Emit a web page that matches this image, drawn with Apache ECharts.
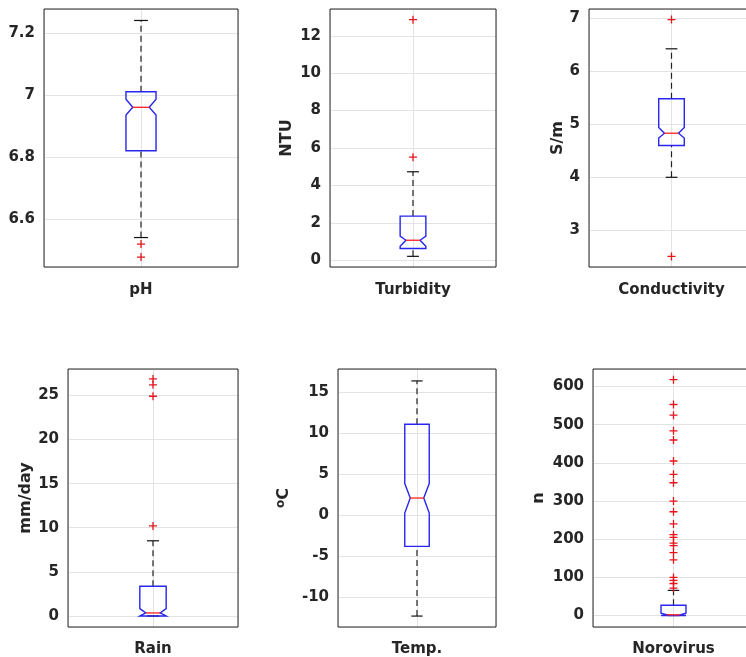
<!DOCTYPE html>
<html><head><meta charset="utf-8">
<script src="https://cdn.jsdelivr.net/npm/echarts@6/dist/echarts.min.js"></script>
<style>html,body{margin:0;padding:0;background:#fff}#c{width:746px;height:657px}</style>
</head><body><div id="c"></div>
<script>
// ---- data ----
const categories = ['pH', 'Turbidity', 'Conductivity', 'Rain', 'Temp.', 'Norovirus'];
const units = ['', 'NTU', 'S/m', 'mm/day', '{sup|o}C', 'n'];
const whiskerLow  = [6.54, 0.21, 4.00, 0.00, -12.26, 0];
const q1          = [6.82, 0.63, 4.60, 0.00, -3.78, 0];
const median      = [6.96, 1.07, 4.83, 0.34, 2.10, 2];
const q3          = [7.01, 2.36, 5.48, 3.37, 11.08, 27];
const whiskerHigh = [7.24, 4.73, 6.42, 8.52, 16.35, 66];
const notchLow    = [6.935, 0.75, 4.74, 0.00, 0.28, 0];
const notchHigh   = [6.986, 1.29, 4.94, 0.84, 3.86, 6];
const outliers = [
  [6.519, 6.477],
  [12.86, 5.51],
  [6.97, 2.51],
  [26.86, 26.2, 24.9, 10.2],
  [],
  [618, 553, 525, 484, 460, 405, 370, 348, 300, 272, 240, 212, 205, 190, 183, 165, 146, 100, 92, 84, 72]
];
const yMin  = [6.445, -0.36, 2.31, -1.25, -13.59, -30];
const yMax  = [7.277, 13.43, 7.17, 27.99, 17.8, 646];
const yStep = [0.2, 2, 1, 5, 5, 100];

// ---- layout / style ----
const gridPos = [
  {left: 44, top: 9, width: 194, height: 258},
  {left: 330, top: 9, width: 166, height: 258},
  {left: 589, top: 9, width: 165, height: 258},
  {left: 68, top: 369, width: 170, height: 258},
  {left: 338, top: 369, width: 158, height: 258},
  {left: 593, top: 369, width: 161, height: 258}
];
const nameGaps = [40, 35, 23, 34, 45, 46];
const xLabelMargins = [16, 16, 16, 15, 15, 15];
const FONT = 'DejaVu Sans';
const TXT = '#262626';
const GRIDC = '#e3e3e3';

const grids = [], xAxes = [], yAxes = [], series = [];
categories.forEach((cat, i) => {
  grids.push(Object.assign({show: true, borderColor: '#262626', borderWidth: 1, backgroundColor: 'transparent',
    containLabel: false, outerBoundsMode: 'none', z: 10}, gridPos[i]));
  xAxes.push({
    type: 'value', gridIndex: i, min: 0, max: 2, interval: 1,
    axisLine: {show: false}, axisTick: {show: false},
    splitLine: {show: true, lineStyle: {color: GRIDC, width: 1}},
    axisLabel: {
      margin: xLabelMargins[i], color: TXT, fontFamily: FONT, fontWeight: 'bold', fontSize: 15,
      formatter: v => (v === 1 ? cat : '')
    }
  });
  yAxes.push({
    type: 'value', gridIndex: i, min: yMin[i], max: yMax[i],
    minInterval: yStep[i], maxInterval: yStep[i], splitNumber: 5,
    axisLine: {show: false}, axisTick: {show: false},
    splitLine: {show: true, lineStyle: {color: GRIDC, width: 1}},
    name: units[i], nameLocation: 'middle', nameGap: nameGaps[i],
    nameTextStyle: {color: TXT, fontFamily: FONT, fontWeight: 'bold', fontSize: 16,
      rich: {sup: {color: TXT, fontFamily: FONT, fontWeight: 'bold', fontSize: 12, verticalAlign: 'top', lineHeight: 18}}},
    axisLabel: {
      margin: 9, color: TXT, fontFamily: FONT, fontWeight: 'bold', fontSize: 15,
      showMinLabel: false, showMaxLabel: false,
      formatter: v => String(parseFloat(Number(v).toFixed(3)))
    }
  });
  series.push({
    type: 'custom', xAxisIndex: i, yAxisIndex: i, silent: true, z: 3,
    data: [[1, whiskerLow[i], q1[i], median[i], q3[i], whiskerHigh[i], notchLow[i], notchHigh[i]]],
    renderItem: function (params, api) {
      const x = api.value(0);
      const wl = api.value(1), a = api.value(2), m = api.value(3), b = api.value(4), wh = api.value(5);
      const nl = api.value(6), nh = api.value(7);
      const hw = 0.155, nw = hw * 0.55, cw = hw * 0.46;
      const P = (dx, y) => api.coord([x + dx, y]);
      const blk = {stroke: '#111', lineWidth: 1.2, fill: null};
      const dash = {stroke: '#222', lineWidth: 1.2, fill: null, lineDash: [6, 4]};
      const line = (p, q, style) => ({type: 'line', shape: {x1: p[0], y1: p[1], x2: q[0], y2: q[1]}, style: style});
      return {
        type: 'group',
        children: [
          line(P(0, b), P(0, wh), dash),
          line(P(0, wl), P(0, a), dash),
          line(P(-cw, wh), P(cw, wh), blk),
          line(P(-cw, wl), P(cw, wl), blk),
          {type: 'polygon', shape: {points: [P(-hw, b), P(hw, b), P(hw, nh), P(nw, m), P(hw, nl), P(hw, a), P(-hw, a), P(-hw, nl), P(-nw, m), P(-hw, nh)]},
           style: {stroke: '#2626f0', lineWidth: 1.4, fill: null}},
          line(P(-nw, m), P(nw, m), {stroke: '#ff2020', lineWidth: 1.3})
        ]
      };
    }
  });
  series.push({
    type: 'scatter', xAxisIndex: i, yAxisIndex: i, silent: true, z: 4,
    symbol: 'path://M0,5L10,5M5,0L5,10', symbolSize: 8,
    itemStyle: {color: 'rgba(0,0,0,0)', borderColor: '#e8141c', borderWidth: 1.3, opacity: 1},
    data: outliers[i].map(v => [1, v])
  });
});

const chart = echarts.init(document.getElementById('c'), null, {renderer: 'canvas'});
chart.setOption({animation: false, backgroundColor: '#fff', grid: grids, xAxis: xAxes, yAxis: yAxes, series: series});
</script>
</body></html>
